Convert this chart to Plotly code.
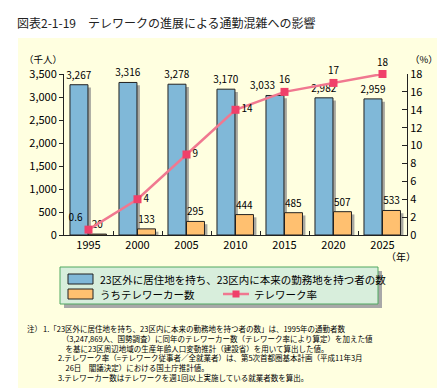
import plotly.graph_objects as go

# ---- data ----
years = ["1995", "2000", "2005", "2010", "2015", "2020", "2025"]
commuters = [3267, 3316, 3278, 3170, 3033, 2982, 2959]      # 千人
teleworkers = [20, 133, 295, 444, 485, 507, 533]             # 千人
telework_rate = [0.6, 4, 9, 14, 16, 17, 18]                  # %
rate_labels = ["0.6", "4", "9", "14", "16", "17", "18"]
rate_textpos = ["top left", "middle right", "middle right", "middle right",
                "top center", "top center", "top center"]

title_text = "図表2-1-19　テレワークの進展による通勤混雑への影響"
legend_labels = ["23区外に居住地を持ち、23区内に本来の勤務地を持つ者の数",
                 "うちテレワーカー数", "テレワーク率"]
note_head = "注）"
note_lines = [
    "1.「23区外に居住地を持ち、23区内に本来の勤務地を持つ者の数」は、1995年の通勤者数",
    "\u3000\u3000\u2002（3,247,869人、国勢調査）に同年のテレワーカー数（テレワーク率により算定）を加えた値",
    "\u3000\u3000\u3000を基に23区周辺地域の生産年齢人口変動推計（建設省）を用いて算出した値。",
    "\u3000\u30002.テレワーク率（=テレワーク従事者／全就業者）は、第5次首都圏基本計画（平成11年3月",
    "\u3000\u3000\u2002\u200226日　閣議決定）における国土庁推計値。",
    "\u3000\u30003.テレワーカー数はテレワークを週1回以上実施している就業者数を算出。",
]

# ---- styling ----
FONT = "Noto Sans CJK JP"
BG = "#FFFFE0"
BLUE = "#80B8D8"
ORANGE = "#FFC070"
SHADOW = "#A8A8A0"
LINE = "#F07890"
MARK = "#F0406A"

W, H = 445, 388
ML, MR, MT, MB = 56, 46, 66, 161
PW = W - ML - MR
PH = H - MT - MB


def px(x):
    return (x - ML) / PW


def py(y):
    return (H - MB - y) / PH


fig = go.Figure()

bw = 0.367
blue_off = -0.378
orange_off = 0.0
sh = 0.06
sh_drop = 60

# blue label for 2015 is nudged left (it sits under the line marker in the original)
SHIFTED = 4
blue_text = [f"{v:,}" if i != SHIFTED else "" for i, v in enumerate(commuters)]

fig.add_trace(go.Bar(x=years, y=[v - sh_drop for v in commuters], offset=blue_off + sh, width=bw,
                     marker=dict(color=SHADOW, line=dict(width=0)), hoverinfo="skip", showlegend=False))
fig.add_trace(go.Bar(x=years, y=[max(v - sh_drop, 0) for v in teleworkers], offset=orange_off + sh, width=bw,
                     marker=dict(color=SHADOW, line=dict(width=0)), hoverinfo="skip", showlegend=False))
fig.add_trace(go.Bar(x=years, y=commuters, offset=blue_off, width=bw, name=legend_labels[0],
                     marker=dict(color=BLUE, line=dict(color="#222", width=1)),
                     text=blue_text, textposition="outside", constraintext="none",
                     textfont=dict(size=10, color="#000", family=FONT), cliponaxis=False))
fig.add_trace(go.Bar(x=years, y=teleworkers, offset=orange_off, width=bw, name=legend_labels[1],
                     marker=dict(color=ORANGE, line=dict(color="#222", width=1)),
                     text=[f"{v:,}" for v in teleworkers], textposition="outside", constraintext="none",
                     textfont=dict(size=10, color="#000", family=FONT), cliponaxis=False))
fig.add_trace(go.Scatter(x=years, y=telework_rate, yaxis="y2", mode="lines+markers+text",
                         name=legend_labels[2],
                         line=dict(color=LINE, width=2.5),
                         marker=dict(symbol="square", size=8, color=MARK),
                         text=rate_labels, textposition=rate_textpos,
                         textfont=dict(size=10, color="#000", family=FONT), cliponaxis=False))

shapes = [
    # yellow background panel
    dict(type="rect", xref="paper", yref="paper", x0=px(10), x1=px(435), y0=py(381), y1=py(30),
         fillcolor=BG, line=dict(width=0), layer="below"),
    # legend shadow
    dict(type="rect", xref="paper", yref="paper", x0=px(56), x1=px(374), y0=py(300), y1=py(263),
         fillcolor="#A8A8A8", line=dict(width=0)),
    # legend box
    dict(type="rect", xref="paper", yref="paper", x0=px(52), x1=px(370), y0=py(296), y1=py(259),
         fillcolor="#D8EEDC", line=dict(color="#50A860", width=1)),
    # legend patches
    dict(type="rect", xref="paper", yref="paper", x0=px(60), x1=px(85), y0=py(276), y1=py(266),
         fillcolor=BLUE, line=dict(color="#222", width=1)),
    dict(type="rect", xref="paper", yref="paper", x0=px(60), x1=px(85), y0=py(291), y1=py(281),
         fillcolor=ORANGE, line=dict(color="#222", width=1)),
    dict(type="line", xref="paper", yref="paper", x0=px(215), x1=px(241), y0=py(286), y1=py(286),
         line=dict(color=LINE, width=2.5)),
    dict(type="rect", xref="paper", yref="paper", x0=px(224.5), x1=px(231.5), y0=py(289.5), y1=py(282.5),
         fillcolor=MARK, line=dict(width=0)),
]

ann = [
    dict(text=title_text, x=px(7), y=py(15), xanchor="left", yanchor="middle",
         font=dict(size=12, family=FONT, color="#222")),
    dict(text="（千人）", x=px(14), y=py(51), xanchor="left", yanchor="middle",
         font=dict(size=9.5, family=FONT, color="#000")),
    dict(text="（%）", x=px(400), y=py(51), xanchor="left", yanchor="middle",
         font=dict(size=9.5, family=FONT, color="#000")),
    dict(text="（年）", x=px(376), y=py(248), xanchor="left", yanchor="middle",
         font=dict(size=10, family=FONT, color="#000")),
    dict(text=legend_labels[0], x=px(90), y=py(271), xanchor="left", yanchor="middle",
         font=dict(size=10.5, family=FONT, color="#000")),
    dict(text=legend_labels[1], x=px(90), y=py(286), xanchor="left", yanchor="middle",
         font=dict(size=10.5, family=FONT, color="#000")),
    dict(text=legend_labels[2], x=px(244), y=py(286), xanchor="left", yanchor="middle",
         font=dict(size=10.5, family=FONT, color="#000")),
    dict(text=note_head, x=px(17), y=py(313), xanchor="left", yanchor="top",
         font=dict(size=7.5, family=FONT, color="#000")),
    dict(text="<br>".join(note_lines), x=px(33), y=py(313), xanchor="left", yanchor="top",
         align="left", font=dict(size=7.5, family=FONT, color="#000")),
]
for a in ann:
    a.update(xref="paper", yref="paper", showarrow=False)

# the nudged 2015 label, placed through the data axes (category serial number)
ann.append(dict(text=f"{commuters[SHIFTED]:,}", xref="x", yref="y", x=SHIFTED,
                y=commuters[SHIFTED], xshift=-22, yshift=1, xanchor="center", yanchor="bottom",
                showarrow=False, font=dict(size=10, family=FONT, color="#000")))

fig.update_layout(
    width=W, height=H,
    margin=dict(l=ML, r=MR, t=MT, b=MB),
    paper_bgcolor="white", plot_bgcolor=BG,
    barmode="overlay", showlegend=False,
    font=dict(family=FONT, size=11, color="#000"),
    xaxis=dict(type="category", range=[-0.5, 6.5], showline=True, linecolor="#222", linewidth=1,
               ticks="inside", tickson="boundaries", ticklen=4, tickcolor="#222",
               showgrid=False, tickfont=dict(size=11, family=FONT)),
    yaxis=dict(range=[0, 3500], dtick=500, tickformat=",", showline=True, linecolor="#222",
               linewidth=1, ticks="outside", ticklen=4, tickcolor="#222", showgrid=False,
               zeroline=False, tickfont=dict(size=11, family=FONT)),
    yaxis2=dict(range=[0, 18], dtick=2, overlaying="y", side="right", showline=True,
                linecolor="#222", linewidth=1, ticks="inside", ticklen=5, tickcolor="#222",
                showgrid=False, zeroline=False, tickfont=dict(size=11, family=FONT)),
    shapes=shapes, annotations=ann,
)

fig.write_html("out.html")
